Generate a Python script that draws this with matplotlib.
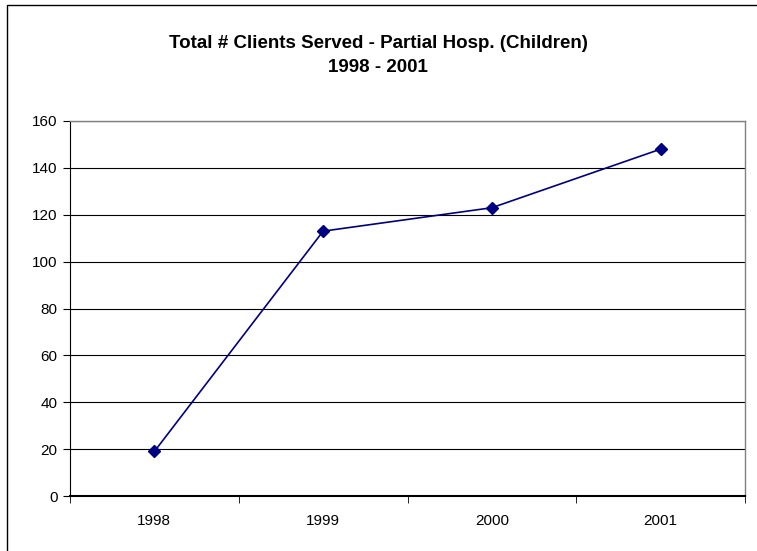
import matplotlib
matplotlib.use("Agg")
import matplotlib.pyplot as plt
from matplotlib.patches import Rectangle

years = ["1998", "1999", "2000", "2001"]
clients = [19, 113, 123, 148]
yticks = [0, 20, 40, 60, 80, 100, 120, 140, 160]

plt.rcParams['font.family'] = ['Liberation Sans', 'DejaVu Sans']

W, H = 757, 551
fig = plt.figure(figsize=(W/100, H/100), dpi=100)
fig.patch.set_facecolor('white')

# figure border
fig.patches.append(Rectangle((7/W, -0.5), 2.0, 1.5 - 5/H, transform=fig.transFigure,
                             fill=False, edgecolor='black', linewidth=1.0))

ax = fig.add_axes([70/W, (H-496)/H, (745-70)/W, (496-121)/H])
x = list(range(len(years)))
ax.plot(x, clients, color='#000080', linewidth=1.2, marker='D', markersize=6,
        markerfacecolor='#000080', markeredgecolor='#000080', zorder=3)

ax.set_xlim(-0.5, len(years) - 0.5)
ax.set_ylim(0, 160)
ax.set_yticks(yticks)
ax.set_yticklabels([str(v) for v in yticks], fontsize=11)
ax.set_xticks(x)
ax.set_xticklabels(years, fontsize=11)
ax.set_xticks([i - 0.5 for i in range(len(years) + 1)], minor=True)
ax.tick_params(axis='x', which='major', length=0, pad=13)
ax.tick_params(axis='x', which='minor', length=5, direction='out', color='black')
ax.tick_params(axis='y', length=5, direction='out', color='black', pad=4)

ax.yaxis.grid(True, color='black', linewidth=0.8)
ax.set_axisbelow(True)
for s in ['top', 'right']:
    ax.spines[s].set_color('#808080')
    ax.spines[s].set_linewidth(1.0)
ax.spines['left'].set_color('black')
ax.spines['bottom'].set_color('black')
ax.spines['bottom'].set_linewidth(1.5)

fig.text(378/W, 1 - 44/H, "Total # Clients Served - Partial Hosp. (Children)",
         ha='center', va='center', fontsize=13.5, fontweight='bold')
fig.text(378/W, 1 - 67/H, "1998 - 2001",
         ha='center', va='center', fontsize=13.5, fontweight='bold')

fig.savefig("out.png", dpi=100)
